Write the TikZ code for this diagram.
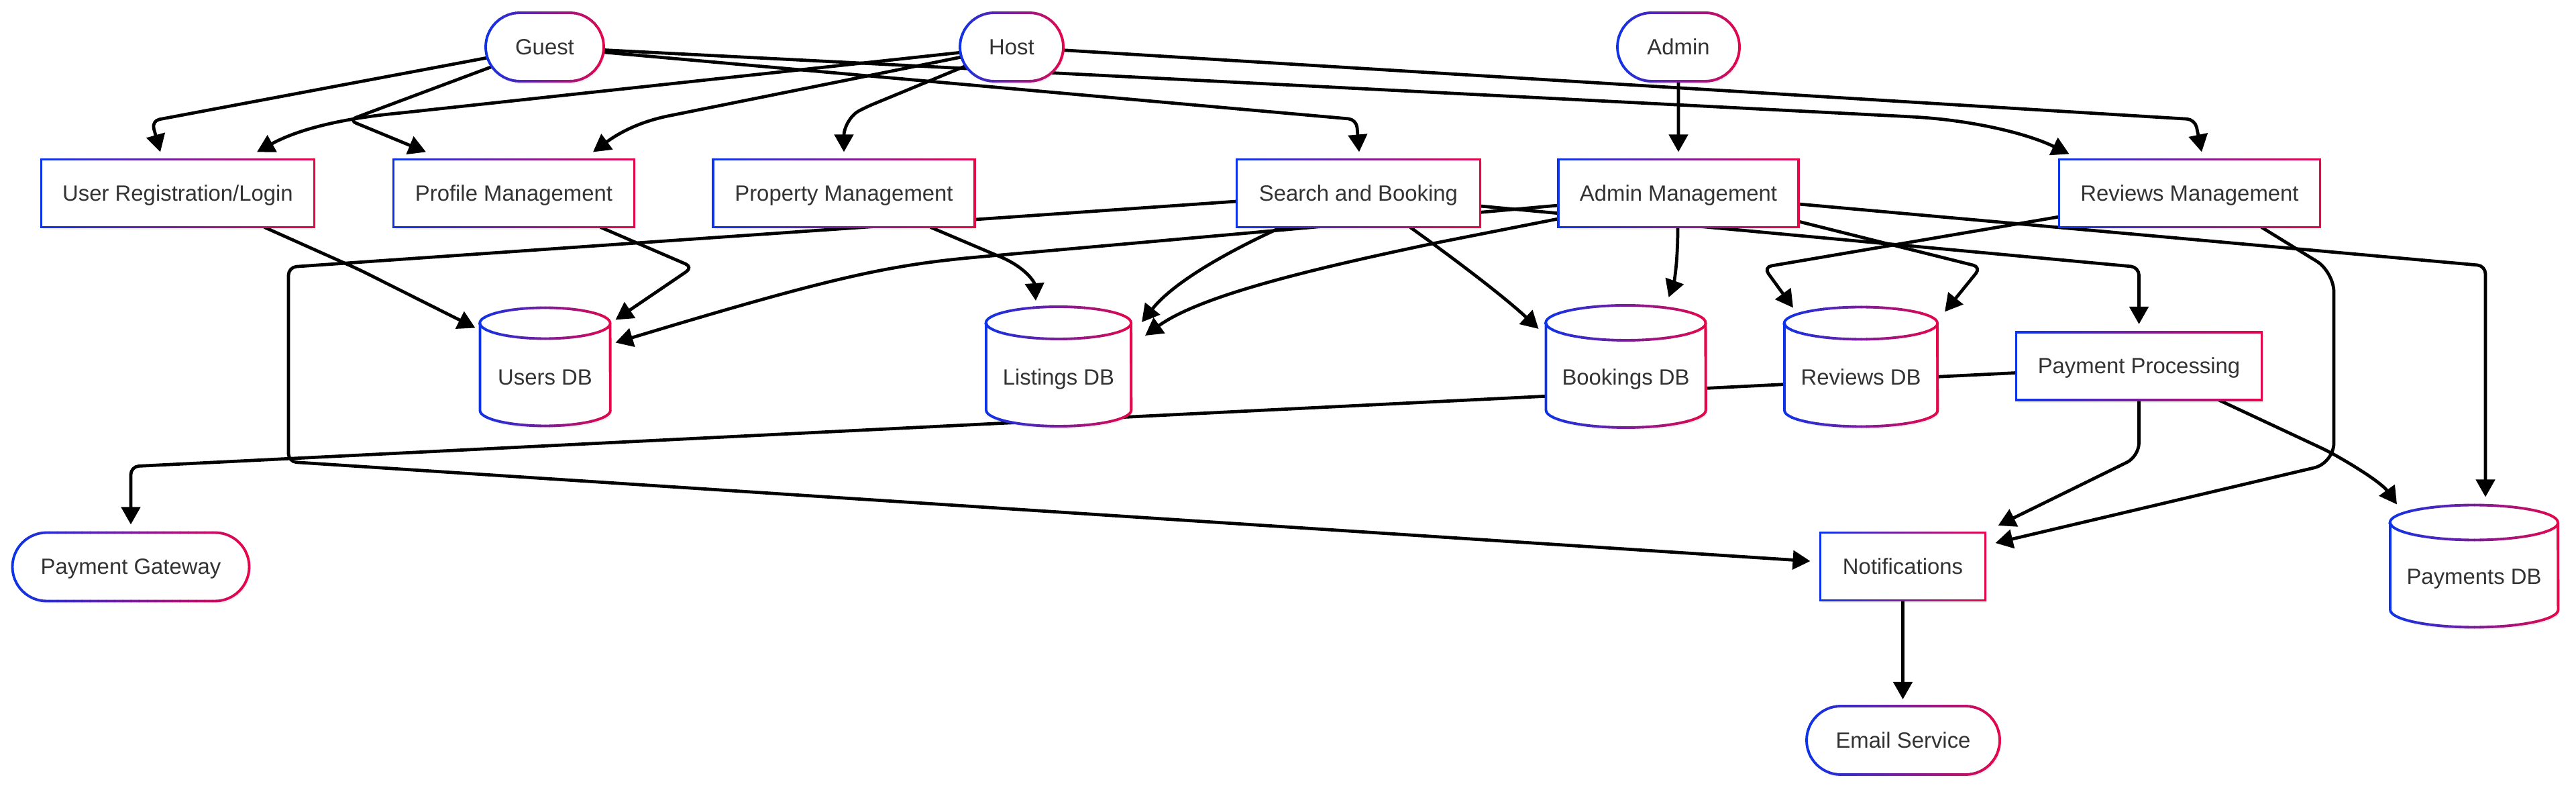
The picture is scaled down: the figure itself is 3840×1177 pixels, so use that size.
\documentclass[tikz,border=0pt]{standalone}
\usepackage{fontspec}
\setmainfont{Liberation Sans}
\usetikzlibrary{arrows.meta,calc,shapes.misc}
\definecolor{gB}{RGB}{8,52,236}
\definecolor{gR}{RGB}{234,6,72}
\definecolor{txt}{RGB}{51,51,51}
\pgfdeclarelayer{edges}
\pgfsetlayers{edges,main}
\tikzset{
  lbl/.style={font=\fontsize{9.35pt}{11pt}\selectfont, text=txt, text height=0.235cm, text depth=0.01cm},
  gline/.style={line width=1.1pt},
  shadowc/.style={fill=black, fill opacity=0.06},
  nodebox/.style={inner sep=0pt, outer sep=0pt, draw=none},
  conn/.style={line width=1.35pt, draw=black, -{Triangle[length=0.26cm,width=0.28cm]}, rounded corners=0.12cm},
}
% gradient stroke: xmin, xmax, extra options, path
\newcommand{\mkgrad}[4]{%
  \foreach \k in {0,...,29}{%
    \pgfmathsetmacro{\gpct}{100*(\k+0.5)/30}%
    \pgfmathsetmacro{\gl}{#1-6+(#2-#1+12)*\k/30}%
    \pgfmathsetmacro{\gr}{\gl+(#2-#1+12)/30+0.8}%
    \begin{scope}
      \clip (\gl,-50) rectangle (\gr,1300);
      \draw[gline, draw=gR!\gpct!gB, #3] #4;
    \end{scope}
  }%
}
\newcommand{\mkbox}[5]{%
  \pgfmathsetmacro{\bxl}{#2-#4/2}%
  \pgfmathsetmacro{\bxr}{#2+#4/2}%
  \pgfmathsetmacro{\byt}{#3-50.5}%
  \pgfmathsetmacro{\byb}{#3+50.5}%
  \fill[shadowc] (\bxl+2,\byt+4) rectangle (\bxr+2,\byb+4);%
  \node[nodebox, rectangle, lbl, fill=white, minimum width={#4*0.01cm}, minimum height=1.01cm] (#1) at (#2,#3) {#5};%
  \mkgrad{\bxl}{\bxr}{}{(\bxl,\byt) rectangle (\bxr,\byb)}%
}
\newcommand{\mkpill}[5]{%
  \pgfmathsetmacro{\pxl}{#2-#4/2}%
  \pgfmathsetmacro{\pxr}{#2+#4/2}%
  \pgfmathsetmacro{\pyt}{#3-51}%
  \pgfmathsetmacro{\pyb}{#3+51}%
  \fill[shadowc, rounded corners=0.51cm] (\pxl+2,\pyt+4) rectangle (\pxr+2,\pyb+4);%
  \node[nodebox, rounded rectangle, lbl, fill=white, minimum width={#4*0.01cm}, minimum height=1.02cm] (#1) at (#2,#3) {#5};%
  \mkgrad{\pxl}{\pxr}{rounded corners=0.51cm}{(\pxl,\pyt) rectangle (\pxr,\pyb)}%
}
\newcommand{\mkcyl}[6]{%
  \pgfmathsetmacro{\cxl}{#2-#4/2}%
  \pgfmathsetmacro{\cxr}{#2+#4/2}%
  \pgfmathsetmacro{\cyt}{#3-65}%
  \pgfmathsetmacro{\cyb}{#3+65}%
  \pgfmathsetmacro{\crx}{#4*0.005}%
  \pgfmathsetmacro{\cry}{#5*0.01}%
  \fill[shadowc, shift={(2,4)}] (\cxl,\cyt) -- (\cxl,\cyb) arc[start angle=180,end angle=360,x radius=\crx cm,y radius=\cry cm] -- (\cxr,\cyt) arc[start angle=0,end angle=180,x radius=\crx cm,y radius=\cry cm] -- cycle;%
  \fill[white] (\cxl,\cyt) -- (\cxl,\cyb) arc[start angle=180,end angle=360,x radius=\crx cm,y radius=\cry cm] -- (\cxr,\cyt) arc[start angle=0,end angle=180,x radius=\crx cm,y radius=\cry cm] -- cycle;%
  \node[nodebox, rectangle, minimum width={#4*0.01cm}, minimum height={(130+2*#5)*0.01cm}, label={[lbl, yshift=-0.16cm]center:#6}] (#1) at (#2,#3) {};%
  \mkgrad{\cxl}{\cxr}{}{(\cxl,\cyt) -- (\cxl,\cyb) arc[start angle=180,end angle=360,x radius=\crx cm,y radius=\cry cm] -- (\cxr,\cyt) arc[start angle=0,end angle=180,x radius=\crx cm,y radius=\cry cm] -- cycle (\cxl,\cyt) arc[start angle=180,end angle=360,x radius=\crx cm,y radius=\cry cm]}%
}
\begin{document}
\begin{tikzpicture}[x=0.01cm, y=-0.01cm]
\useasboundingbox (0,0) rectangle (3840,1177);
% ---------- nodes ----------
\mkpill{guest}{812}{70}{176}{Guest}
\mkpill{host}{1508}{70}{154}{Host}
\mkpill{admin}{2502}{70}{182}{Admin}
\mkbox{url}{265}{288}{407}{User Registration/Login}
\mkbox{profile}{766}{288}{359}{Profile Management}
\mkbox{property}{1258}{288}{390}{Property Management}
\mkbox{sab}{2025}{288}{363}{Search and Booking}
\mkbox{adminm}{2502}{288}{358}{Admin Management}
\mkbox{reviewsm}{3264}{288}{389}{Reviews Management}
\mkcyl{usersdb}{812.5}{546.5}{194}{23}{Users DB}
\mkcyl{listingsdb}{1578}{546}{216}{24}{Listings DB}
\mkcyl{bookingsdb}{2423.5}{546}{238}{26}{Bookings DB}
\mkcyl{reviewsdb}{2774}{546.5}{228}{24}{Reviews DB}
\mkbox{payproc}{3188.5}{545.5}{366}{Payment Processing}
\mkpill{paygw}{195}{844.5}{353}{Payment Gateway}
\mkbox{notif}{2836.5}{844}{246}{Notifications}
\mkcyl{paymentsdb}{3688}{843.5}{250}{26}{Payments DB}
\mkpill{email}{2837}{1103}{288}{Email Service}
% ---------- connectors ----------
\begin{pgfonlayer}{edges}
\fill[white] (0,0) rectangle (3840,1177);
% Guest
\draw[conn] (guest) -- (226,180) -- ($(url.north)+(-26,-11)$);
\draw[conn] (guest) -- (520,179) -- ($(profile.north)+(-131,-11)$);
\draw[conn] (guest) -- (2022,178) -- ($(sab.north)+(1,-11)$);
\draw[conn] (guest) -- (2850,174) .. controls (2940,180) and (3020,198) .. ($(reviewsm.north west)+(15,-8)$);
% Host
\draw[conn] (host) -- (600,168) .. controls (500,178) and (440,195) .. ($(url.north)+(118,-11)$);
\draw[conn] (host) -- (1010,170) .. controls (950,182) and (920,200) .. ($(profile.north)+(118,-11)$);
\draw[conn] (host) -- (1290,160) .. controls (1268,172) and (1258,190) .. ($(property.north)+(0,-11)$);
\draw[conn] (host) -- (3272,178) -- ($(reviewsm.north)+(18,-11)$);
% Admin
\draw[conn] (admin) -- ($(adminm.north)+(0,-11)$);
% to Users DB
\draw[conn] ($(url.south)+(129,0)$) -- (536,402) -- ($(usersdb.center)+(-104,-58)$);
\draw[conn] ($(profile.south)+(129,0)$) -- (1033,398) -- ($(usersdb.center)+(105,-70)$);
\draw[conn] ($(adminm.west)+(0,18)$) -- (1480,381) .. controls (1330,394) and (1250,410) .. ($(usersdb.center)+(105,-36)$);
% to Listings DB
\draw[conn] ($(property.south)+(129,0)$) -- (1480,378) .. controls (1528,398) and (1542,420) .. ($(listingsdb.center)+(-34,-98)$);
\draw[conn] ($(sab.south)+(-115,0)$) .. controls (1830,375) and (1750,420) .. ($(listingsdb.center)+(124,-66)$);
\draw[conn] ($(adminm.west)+(0,38)$) -- (2140,362) .. controls (1960,400) and (1790,440) .. ($(listingsdb.center)+(129,-46)$);
% to Bookings DB
\draw[conn] ($(sab.south)+(77,0)$) .. controls (2160,380) and (2240,440) .. ($(bookingsdb.center)+(-130,-56)$);
\draw[conn] ($(adminm.south)+(-1,0)$) .. controls (2501,400) and (2494,425) .. ($(bookingsdb.center)+(64,-103)$);
% to Reviews DB
\draw[conn] ($(adminm.east)+(0,42)$) -- (2953,398) -- ($(reviewsdb.center)+(125,-82)$);
\draw[conn] ($(reviewsm.west)+(0,35)$) -- (2629,398) -- ($(reviewsdb.center)+(-101,-88)$);
% to Payment Processing / Payments DB
\draw[conn] ($(sab.east)+(0,19)$) -- (3188.5,398) -- ($(payproc.north)+(0,-12)$);
\draw[conn] ($(adminm.east)+(0,16)$) -- (3705,396) -- ($(paymentsdb.center)+(17,-103)$);
\draw[conn] ($(payproc.south)+(119,0)$) -- (3470,672) .. controls (3520,700) and (3552,722) .. ($(paymentsdb.center)+(-115,-92)$);
% to Notifications
\draw[conn, rounded corners=0.3cm] ($(reviewsm.south)+(107,0)$) -- (3479,405) -- (3479,690) -- ($(notif.center)+(138,-35)$);
\draw[conn, rounded corners=0.2cm] (payproc) -- (3188.5,680) -- ($(notif.center)+(142,-61)$);
\draw[conn] ($(sab.west)+(0,12)$) -- (430,398) -- (430,688) -- ($(notif.west)+(-15,-8)$);
% Payment Gateway
\draw[conn] ($(payproc.west)+(0,10)$) -- (195,695) -- ($(paygw.north)+(0,-12)$);
% Email
\draw[conn] (notif) -- ($(email.north)+(-0.5,-10)$);
\end{pgfonlayer}
\end{tikzpicture}
\end{document}
